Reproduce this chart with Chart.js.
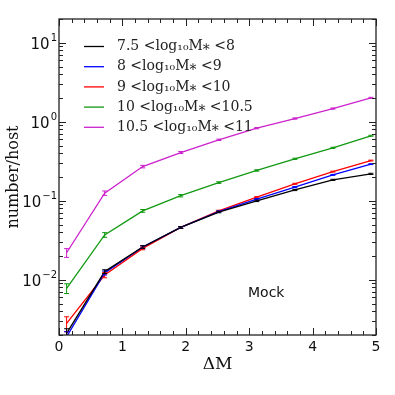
<!DOCTYPE html>
<html>
<head>
<meta charset="utf-8">
<script src="https://cdn.jsdelivr.net/npm/chart.js@4/dist/chart.umd.min.js"></script>
<style>
  html, body { margin: 0; padding: 0; background: #fff; }
  #wrap { width: 395px; height: 395px; }
</style>
</head>
<body>
<div id="wrap"><canvas id="chart" width="395" height="395"></canvas></div>
<script>
// x positions (ΔM)
const deltaM = [0.12, 0.72, 1.32, 1.92, 2.52, 3.12, 3.72, 4.32, 4.92];

const labels = [
  '7.5 <log₁₀M⁎ <8',
  '8 <log₁₀M⁎ <9',
  '9 <log₁₀M⁎ <10',
  '10 <log₁₀M⁎ <10.5',
  '10.5 <log₁₀M⁎ <11'
];
const colors = ['#000000', '#0000ff', '#ff0000', '#119911', '#cc22cc'];

const bin1 = [0.0021, 0.0127, 0.026, 0.046, 0.072, 0.0997, 0.137, 0.184, 0.219];
const bin2 = [0.0019, 0.0122, 0.026, 0.046, 0.073, 0.105, 0.149, 0.213, 0.291];
const bin3 = [0.0028, 0.0115, 0.025, 0.046, 0.0745, 0.111, 0.164, 0.234, 0.323];
const bin4 = [0.0078, 0.037, 0.0745, 0.116, 0.170, 0.242, 0.340, 0.468, 0.665];
const bin5 = [0.022, 0.125, 0.271, 0.408, 0.591, 0.83, 1.10, 1.47, 2.01];

const err1 = [0.0003, 0.0007, 0.001, 0.0012, 0.0015, 0.002, 0.0025, 0.003, 0.004];
const err2 = [0.0003, 0.0007, 0.001, 0.0012, 0.0015, 0.002, 0.0025, 0.003, 0.004];
const err3 = [0.0006, 0.0009, 0.001, 0.0012, 0.0015, 0.002, 0.0025, 0.003, 0.004];
const err4 = [0.0011, 0.0025, 0.003, 0.004, 0.004, 0.005, 0.006, 0.008, 0.01];
const err5 = [0.0028, 0.008, 0.01, 0.012, 0.012, 0.015, 0.02, 0.025, 0.03];

const yTickValues = [0.01, 0.1, 1, 10];
const xTickValues = [0, 1, 2, 3, 4, 5];

const series = [bin1, bin2, bin3, bin4, bin5];
const errors = [err1, err2, err3, err4, err5];

// error bars with caps
const errorBarPlugin = {
  id: 'errorBars',
  afterDatasetsDraw: (chart) => {
    const { ctx, chartArea, scales } = chart;
    ctx.save();
    ctx.beginPath();
    ctx.rect(chartArea.left, chartArea.top, chartArea.right - chartArea.left, chartArea.bottom - chartArea.top);
    ctx.clip();
    for (let i = series.length - 1; i >= 0; i--) {
      ctx.strokeStyle = colors[i];
      ctx.lineWidth = 1;
      series[i].forEach((v, j) => {
        const x = scales.x.getPixelForValue(deltaM[j]);
        const y1 = scales.y.getPixelForValue(v - errors[i][j]);
        const y2 = scales.y.getPixelForValue(v + errors[i][j]);
        ctx.beginPath();
        ctx.moveTo(x, y1); ctx.lineTo(x, y2);
        ctx.moveTo(x - 2.5, y1); ctx.lineTo(x + 2.5, y1);
        ctx.moveTo(x - 2.5, y2); ctx.lineTo(x + 2.5, y2);
        ctx.stroke();
      });
    }
    ctx.restore();
  }
};

// frame, inward ticks, y labels with exponents, legend and annotation
const framePlugin = {
  id: 'frame',
  afterDraw: (chart) => {
    const { ctx, chartArea, scales } = chart;
    const { left, right, top, bottom } = chartArea;
    ctx.save();
    ctx.strokeStyle = '#222';
    ctx.lineWidth = 1.3;
    ctx.strokeRect(left, top, right - left, bottom - top);

    ctx.lineWidth = 1;
    ctx.beginPath();
    // y ticks (log)
    for (let d = -3; d <= 1; d++) {
      for (let m = 1; m <= 9; m++) {
        const v = m * Math.pow(10, d);
        if (v < scales.y.min || v > scales.y.max) continue;
        const y = Math.round(scales.y.getPixelForValue(v)) + 0.5;
        const len = m === 1 ? 7 : 4;
        ctx.moveTo(left, y); ctx.lineTo(left + len, y);
        ctx.moveTo(right, y); ctx.lineTo(right - len, y);
      }
    }
    // x ticks
    for (let k = 0; k <= 25; k++) {
      const v = k * 0.2;
      const x = Math.round(scales.x.getPixelForValue(v)) + 0.5;
      const len = k % 5 === 0 ? 7 : 4;
      ctx.moveTo(x, bottom); ctx.lineTo(x, bottom - len);
      ctx.moveTo(x, top); ctx.lineTo(x, top + len);
    }
    ctx.stroke();

    // y tick labels: 10 with raised exponent
    ctx.fillStyle = '#111';
    ctx.textBaseline = 'alphabetic';
    yTickValues.forEach((v) => {
      const y = scales.y.getPixelForValue(v);
      const exp = String(Math.round(Math.log10(v))).replace('-', '−');
      ctx.font = '10px "DejaVu Sans"';
      ctx.textAlign = 'right';
      ctx.fillText(exp, left - 2, y - 2);
      const ew = ctx.measureText(exp).width;
      ctx.font = '15px "DejaVu Sans"';
      ctx.fillText('10', left - 3 - ew, y + 6);
    });

    // legend
    ctx.textAlign = 'left';
    ctx.font = '14px "DejaVu Serif"';
    ctx.textBaseline = 'middle';
    labels.forEach((lab, i) => {
      const y = top + 27.5 + i * 20.2;
      ctx.strokeStyle = colors[i];
      ctx.lineWidth = 1.3;
      ctx.beginPath();
      ctx.moveTo(left + 25, y); ctx.lineTo(left + 45, y);
      ctx.stroke();
      ctx.fillStyle = '#222';
      ctx.fillText(lab, left + 58, y);
    });

    ctx.font = '14px "DejaVu Sans"';
    ctx.fillStyle = '#111';
    ctx.fillText('Mock', 248, 293);
    ctx.restore();
  }
};

const datasets = series.map((data, i) => ({
  label: labels[i],
  data: data.map((v, j) => ({ x: deltaM[j], y: v })),
  borderColor: colors[i],
  backgroundColor: colors[i],
  borderWidth: 1.3,
  pointRadius: 0,
  tension: 0,
  fill: false
}));

new Chart(document.getElementById('chart'), {
  type: 'line',
  data: { datasets: datasets },
  options: {
    responsive: false,
    animation: false,
    layout: { padding: { left: 0, top: 19, right: 19, bottom: 20 } },
    plugins: {
      legend: { display: false },
      tooltip: { enabled: false }
    },
    scales: {
      x: {
        type: 'linear',
        min: 0,
        max: 5,
        grid: { display: false, drawTicks: false },
        border: { display: false },
        afterBuildTicks: (scale) => { scale.ticks = xTickValues.map(v => ({ value: v })); },
        ticks: {
          padding: 4,
          color: '#111',
          font: { family: 'DejaVu Sans', size: 14 },
          callback: (v) => String(v)
        },
        title: {
          display: true,
          text: 'ΔM',
          color: '#111',
          padding: { top: 0, bottom: 0 },
          font: { family: 'DejaVu Serif', size: 17 }
        },
        afterFit: (scale) => { scale.height = 40; }
      },
      y: {
        type: 'logarithmic',
        min: 0.002,
        max: 20,
        grid: { display: false, drawTicks: false },
        border: { display: false },
        afterBuildTicks: (scale) => { scale.ticks = yTickValues.map(v => ({ value: v })); },
        ticks: {
          padding: 6,
          color: '#111',
          font: { family: 'DejaVu Sans', size: 14 },
          callback: () => ''
        },
        title: {
          display: true,
          text: 'number/host',
          color: '#111',
          padding: { bottom: 2 },
          font: { family: 'DejaVu Serif', size: 16 }
        },
        afterFit: (scale) => { scale.width = 59; }
      }
    }
  },
  plugins: [errorBarPlugin, framePlugin]
});
</script>
</body>
</html>
